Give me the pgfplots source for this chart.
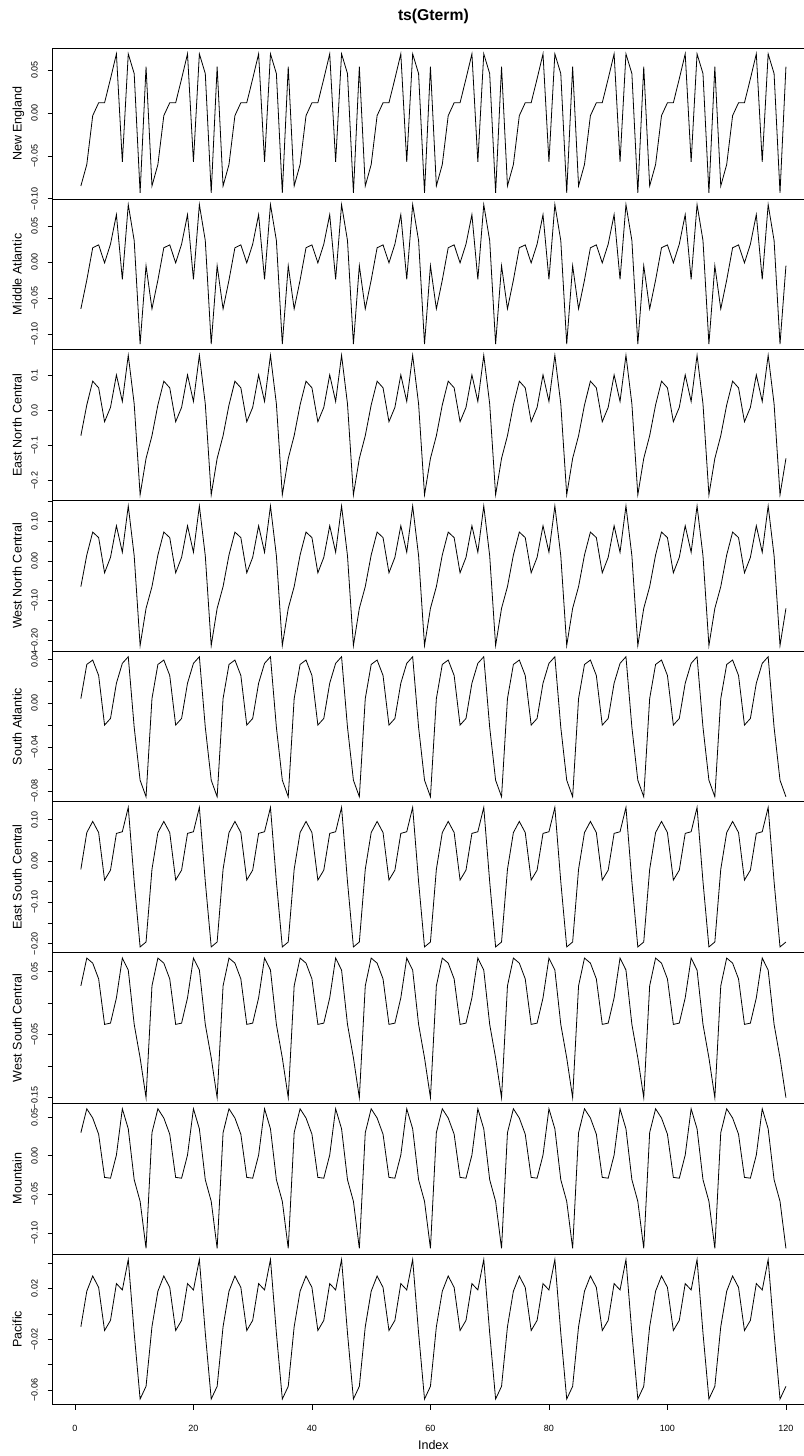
\documentclass[border=0pt]{standalone}
\usepackage{pgfplots}
\usepackage{pgfplotstable}
\pgfplotsset{compat=1.18}
\usepackage{fontspec}
\setmainfont{Liberation Sans}

\pgfplotstableread{
i ne ma enc wnc sa esc wsc mt pac
1 -0.085 -0.065 -0.072 -0.065 0.004 -0.020 0.027 0.030 -0.010
2 -0.060 -0.025 0.016 0.015 0.035 0.069 0.071 0.061 0.018
3 -0.003 0.020 0.084 0.073 0.039 0.096 0.063 0.049 0.030
4 0.012 0.024 0.065 0.059 0.025 0.069 0.038 0.028 0.021
5 0.012 -0.001 -0.032 -0.030 -0.020 -0.046 -0.034 -0.028 -0.013
6 0.040 0.025 0.009 0.009 -0.014 -0.022 -0.032 -0.029 -0.005
7 0.069 0.066 0.102 0.089 0.018 0.067 0.008 0.001 0.024
8 -0.057 -0.024 0.026 0.022 0.036 0.071 0.071 0.061 0.019
9 0.069 0.080 0.158 0.139 0.042 0.130 0.052 0.035 0.043
10 0.046 0.030 0.019 0.013 -0.022 -0.050 -0.034 -0.031 -0.015
11 -0.093 -0.114 -0.241 -0.214 -0.070 -0.208 -0.087 -0.059 -0.067
12 0.054 -0.005 -0.137 -0.120 -0.085 -0.196 -0.150 -0.120 -0.057
13 -0.085 -0.065 -0.072 -0.065 0.004 -0.020 0.027 0.030 -0.010
14 -0.060 -0.025 0.016 0.015 0.035 0.069 0.071 0.061 0.018
15 -0.003 0.020 0.084 0.073 0.039 0.096 0.063 0.049 0.030
16 0.012 0.024 0.065 0.059 0.025 0.069 0.038 0.028 0.021
17 0.012 -0.001 -0.032 -0.030 -0.020 -0.046 -0.034 -0.028 -0.013
18 0.040 0.025 0.009 0.009 -0.014 -0.022 -0.032 -0.029 -0.005
19 0.069 0.066 0.102 0.089 0.018 0.067 0.008 0.001 0.024
20 -0.057 -0.024 0.026 0.022 0.036 0.071 0.071 0.061 0.019
21 0.069 0.080 0.158 0.139 0.042 0.130 0.052 0.035 0.043
22 0.046 0.030 0.019 0.013 -0.022 -0.050 -0.034 -0.031 -0.015
23 -0.093 -0.114 -0.241 -0.214 -0.070 -0.208 -0.087 -0.059 -0.067
24 0.054 -0.005 -0.137 -0.120 -0.085 -0.196 -0.150 -0.120 -0.057
25 -0.085 -0.065 -0.072 -0.065 0.004 -0.020 0.027 0.030 -0.010
26 -0.060 -0.025 0.016 0.015 0.035 0.069 0.071 0.061 0.018
27 -0.003 0.020 0.084 0.073 0.039 0.096 0.063 0.049 0.030
28 0.012 0.024 0.065 0.059 0.025 0.069 0.038 0.028 0.021
29 0.012 -0.001 -0.032 -0.030 -0.020 -0.046 -0.034 -0.028 -0.013
30 0.040 0.025 0.009 0.009 -0.014 -0.022 -0.032 -0.029 -0.005
31 0.069 0.066 0.102 0.089 0.018 0.067 0.008 0.001 0.024
32 -0.057 -0.024 0.026 0.022 0.036 0.071 0.071 0.061 0.019
33 0.069 0.080 0.158 0.139 0.042 0.130 0.052 0.035 0.043
34 0.046 0.030 0.019 0.013 -0.022 -0.050 -0.034 -0.031 -0.015
35 -0.093 -0.114 -0.241 -0.214 -0.070 -0.208 -0.087 -0.059 -0.067
36 0.054 -0.005 -0.137 -0.120 -0.085 -0.196 -0.150 -0.120 -0.057
37 -0.085 -0.065 -0.072 -0.065 0.004 -0.020 0.027 0.030 -0.010
38 -0.060 -0.025 0.016 0.015 0.035 0.069 0.071 0.061 0.018
39 -0.003 0.020 0.084 0.073 0.039 0.096 0.063 0.049 0.030
40 0.012 0.024 0.065 0.059 0.025 0.069 0.038 0.028 0.021
41 0.012 -0.001 -0.032 -0.030 -0.020 -0.046 -0.034 -0.028 -0.013
42 0.040 0.025 0.009 0.009 -0.014 -0.022 -0.032 -0.029 -0.005
43 0.069 0.066 0.102 0.089 0.018 0.067 0.008 0.001 0.024
44 -0.057 -0.024 0.026 0.022 0.036 0.071 0.071 0.061 0.019
45 0.069 0.080 0.158 0.139 0.042 0.130 0.052 0.035 0.043
46 0.046 0.030 0.019 0.013 -0.022 -0.050 -0.034 -0.031 -0.015
47 -0.093 -0.114 -0.241 -0.214 -0.070 -0.208 -0.087 -0.059 -0.067
48 0.054 -0.005 -0.137 -0.120 -0.085 -0.196 -0.150 -0.120 -0.057
49 -0.085 -0.065 -0.072 -0.065 0.004 -0.020 0.027 0.030 -0.010
50 -0.060 -0.025 0.016 0.015 0.035 0.069 0.071 0.061 0.018
51 -0.003 0.020 0.084 0.073 0.039 0.096 0.063 0.049 0.030
52 0.012 0.024 0.065 0.059 0.025 0.069 0.038 0.028 0.021
53 0.012 -0.001 -0.032 -0.030 -0.020 -0.046 -0.034 -0.028 -0.013
54 0.040 0.025 0.009 0.009 -0.014 -0.022 -0.032 -0.029 -0.005
55 0.069 0.066 0.102 0.089 0.018 0.067 0.008 0.001 0.024
56 -0.057 -0.024 0.026 0.022 0.036 0.071 0.071 0.061 0.019
57 0.069 0.080 0.158 0.139 0.042 0.130 0.052 0.035 0.043
58 0.046 0.030 0.019 0.013 -0.022 -0.050 -0.034 -0.031 -0.015
59 -0.093 -0.114 -0.241 -0.214 -0.070 -0.208 -0.087 -0.059 -0.067
60 0.054 -0.005 -0.137 -0.120 -0.085 -0.196 -0.150 -0.120 -0.057
61 -0.085 -0.065 -0.072 -0.065 0.004 -0.020 0.027 0.030 -0.010
62 -0.060 -0.025 0.016 0.015 0.035 0.069 0.071 0.061 0.018
63 -0.003 0.020 0.084 0.073 0.039 0.096 0.063 0.049 0.030
64 0.012 0.024 0.065 0.059 0.025 0.069 0.038 0.028 0.021
65 0.012 -0.001 -0.032 -0.030 -0.020 -0.046 -0.034 -0.028 -0.013
66 0.040 0.025 0.009 0.009 -0.014 -0.022 -0.032 -0.029 -0.005
67 0.069 0.066 0.102 0.089 0.018 0.067 0.008 0.001 0.024
68 -0.057 -0.024 0.026 0.022 0.036 0.071 0.071 0.061 0.019
69 0.069 0.080 0.158 0.139 0.042 0.130 0.052 0.035 0.043
70 0.046 0.030 0.019 0.013 -0.022 -0.050 -0.034 -0.031 -0.015
71 -0.093 -0.114 -0.241 -0.214 -0.070 -0.208 -0.087 -0.059 -0.067
72 0.054 -0.005 -0.137 -0.120 -0.085 -0.196 -0.150 -0.120 -0.057
73 -0.085 -0.065 -0.072 -0.065 0.004 -0.020 0.027 0.030 -0.010
74 -0.060 -0.025 0.016 0.015 0.035 0.069 0.071 0.061 0.018
75 -0.003 0.020 0.084 0.073 0.039 0.096 0.063 0.049 0.030
76 0.012 0.024 0.065 0.059 0.025 0.069 0.038 0.028 0.021
77 0.012 -0.001 -0.032 -0.030 -0.020 -0.046 -0.034 -0.028 -0.013
78 0.040 0.025 0.009 0.009 -0.014 -0.022 -0.032 -0.029 -0.005
79 0.069 0.066 0.102 0.089 0.018 0.067 0.008 0.001 0.024
80 -0.057 -0.024 0.026 0.022 0.036 0.071 0.071 0.061 0.019
81 0.069 0.080 0.158 0.139 0.042 0.130 0.052 0.035 0.043
82 0.046 0.030 0.019 0.013 -0.022 -0.050 -0.034 -0.031 -0.015
83 -0.093 -0.114 -0.241 -0.214 -0.070 -0.208 -0.087 -0.059 -0.067
84 0.054 -0.005 -0.137 -0.120 -0.085 -0.196 -0.150 -0.120 -0.057
85 -0.085 -0.065 -0.072 -0.065 0.004 -0.020 0.027 0.030 -0.010
86 -0.060 -0.025 0.016 0.015 0.035 0.069 0.071 0.061 0.018
87 -0.003 0.020 0.084 0.073 0.039 0.096 0.063 0.049 0.030
88 0.012 0.024 0.065 0.059 0.025 0.069 0.038 0.028 0.021
89 0.012 -0.001 -0.032 -0.030 -0.020 -0.046 -0.034 -0.028 -0.013
90 0.040 0.025 0.009 0.009 -0.014 -0.022 -0.032 -0.029 -0.005
91 0.069 0.066 0.102 0.089 0.018 0.067 0.008 0.001 0.024
92 -0.057 -0.024 0.026 0.022 0.036 0.071 0.071 0.061 0.019
93 0.069 0.080 0.158 0.139 0.042 0.130 0.052 0.035 0.043
94 0.046 0.030 0.019 0.013 -0.022 -0.050 -0.034 -0.031 -0.015
95 -0.093 -0.114 -0.241 -0.214 -0.070 -0.208 -0.087 -0.059 -0.067
96 0.054 -0.005 -0.137 -0.120 -0.085 -0.196 -0.150 -0.120 -0.057
97 -0.085 -0.065 -0.072 -0.065 0.004 -0.020 0.027 0.030 -0.010
98 -0.060 -0.025 0.016 0.015 0.035 0.069 0.071 0.061 0.018
99 -0.003 0.020 0.084 0.073 0.039 0.096 0.063 0.049 0.030
100 0.012 0.024 0.065 0.059 0.025 0.069 0.038 0.028 0.021
101 0.012 -0.001 -0.032 -0.030 -0.020 -0.046 -0.034 -0.028 -0.013
102 0.040 0.025 0.009 0.009 -0.014 -0.022 -0.032 -0.029 -0.005
103 0.069 0.066 0.102 0.089 0.018 0.067 0.008 0.001 0.024
104 -0.057 -0.024 0.026 0.022 0.036 0.071 0.071 0.061 0.019
105 0.069 0.080 0.158 0.139 0.042 0.130 0.052 0.035 0.043
106 0.046 0.030 0.019 0.013 -0.022 -0.050 -0.034 -0.031 -0.015
107 -0.093 -0.114 -0.241 -0.214 -0.070 -0.208 -0.087 -0.059 -0.067
108 0.054 -0.005 -0.137 -0.120 -0.085 -0.196 -0.150 -0.120 -0.057
109 -0.085 -0.065 -0.072 -0.065 0.004 -0.020 0.027 0.030 -0.010
110 -0.060 -0.025 0.016 0.015 0.035 0.069 0.071 0.061 0.018
111 -0.003 0.020 0.084 0.073 0.039 0.096 0.063 0.049 0.030
112 0.012 0.024 0.065 0.059 0.025 0.069 0.038 0.028 0.021
113 0.012 -0.001 -0.032 -0.030 -0.020 -0.046 -0.034 -0.028 -0.013
114 0.040 0.025 0.009 0.009 -0.014 -0.022 -0.032 -0.029 -0.005
115 0.069 0.066 0.102 0.089 0.018 0.067 0.008 0.001 0.024
116 -0.057 -0.024 0.026 0.022 0.036 0.071 0.071 0.061 0.019
117 0.069 0.080 0.158 0.139 0.042 0.130 0.052 0.035 0.043
118 0.046 0.030 0.019 0.013 -0.022 -0.050 -0.034 -0.031 -0.015
119 -0.093 -0.114 -0.241 -0.214 -0.070 -0.208 -0.087 -0.059 -0.067
120 0.054 -0.005 -0.137 -0.120 -0.085 -0.196 -0.150 -0.120 -0.057
}\data

\pgfplotsset{
  panel/.style={
    scale only axis, anchor=north west,
    width=571.1pt, height=113.025pt,
    xmin=-3.76, xmax=124.76,
    xtick=\empty,
    scaled y ticks=false, scaled x ticks=false,
    axis line style={line width=0.6pt},
    tick align=outside,
    ytick pos=left,
    major tick length=3.75pt,
    every tick/.style={black, line width=0.6pt},
    yticklabel style={xshift=-7.5pt, rotate=90, anchor=base, font=\fontsize{6.75}{8}\selectfont},
    every axis y label/.style={at={(axis description cs:-0.0407,0.5)}, rotate=90, anchor=base, font=\fontsize{9.4}{11}\selectfont},
  },
  line/.style={black, line width=0.6pt},
}

\begin{document}
\begin{tikzpicture}
\begin{axis}[panel, at={(39.5pt,-36.225pt)},
  ymin=-0.1002, ymax=0.0755,
  ytick={-0.10,-0.05,0,0.05}, yticklabels={−0.10,−0.05,0.00,0.05},
  ylabel={New England},
  title={ts(Gterm)},
  title style={at={(axis description cs:0.5,1.13)}, anchor=base, font=\bfseries\fontsize{11.8}{14}\selectfont}]
\addplot[line] table[x=i,y=ne]{\data};
\end{axis}
\begin{axis}[panel, at={(39.5pt,-149.25pt)},
  ymin=-0.1218, ymax=0.0878,
  ytick={-0.10,-0.05,0,0.05}, yticklabels={−0.10,−0.05,0.00,0.05},
  ylabel={Middle Atlantic}]
\addplot[line] table[x=i,y=ma]{\data};
\end{axis}
\begin{axis}[panel, at={(39.5pt,-262.275pt)},
  ymin=-0.257, ymax=0.174,
  ytick={-0.2,-0.1,0,0.1}, yticklabels={−0.2,−0.1,0.0,0.1},
  ylabel={East North Central}]
\addplot[line] table[x=i,y=enc]{\data};
\end{axis}
\begin{axis}[panel, at={(39.5pt,-375.3pt)},
  ymin=-0.2281, ymax=0.1531,
  ytick={-0.20,-0.15,-0.10,-0.05,0,0.05,0.10,0.15}, yticklabels={−0.20,{},−0.10,{},0.00,{},0.10,{}},
  ylabel={West North Central}]
\addplot[line] table[x=i,y=wnc]{\data};
\end{axis}
\begin{axis}[panel, at={(39.5pt,-488.325pt)},
  ymin=-0.0896, ymax=0.0471,
  ytick={-0.08,-0.06,-0.04,-0.02,0,0.02,0.04}, yticklabels={−0.08,{},−0.04,{},0.00,{},0.04},
  ylabel={South Atlantic}]
\addplot[line] table[x=i,y=sa]{\data};
\end{axis}
\begin{axis}[panel, at={(39.5pt,-601.35pt)},
  ymin=-0.2215, ymax=0.1435,
  ytick={-0.20,-0.15,-0.10,-0.05,0,0.05,0.10}, yticklabels={−0.20,{},−0.10,{},0.00,{},0.10},
  ylabel={East South Central}]
\addplot[line] table[x=i,y=esc]{\data};
\end{axis}
\begin{axis}[panel, at={(39.5pt,-714.375pt)},
  ymin=-0.1588, ymax=0.0798,
  ytick={-0.15,-0.10,-0.05,0,0.05}, yticklabels={−0.15,{},−0.05,{},0.05},
  ylabel={West South Central}]
\addplot[line] table[x=i,y=wsc]{\data};
\end{axis}
\begin{axis}[panel, at={(39.5pt,-827.4pt)},
  ymin=-0.1272, ymax=0.0682,
  ytick={-0.10,-0.05,0,0.05}, yticklabels={−0.10,−0.05,0.00,0.05},
  ylabel={Mountain}]
\addplot[line] table[x=i,y=mt]{\data};
\end{axis}
\begin{axis}[panel, at={(39.5pt,-940.425pt)},
  ymin=-0.0714, ymax=0.0474,
  ytick={-0.06,-0.04,-0.02,0,0.02,0.04}, yticklabels={−0.06,{},−0.02,{},0.02,{}},
  ylabel={Pacific},
  xtick={0,20,40,60,80,100,120}, xticklabels={0,20,40,60,80,100,120},
  xtick pos=left,
  xticklabel style={yshift=-16.3pt, anchor=base, font=\fontsize{6.75}{8}\selectfont},
  xlabel={Index},
  every axis x label/.style={at={(axis description cs:0.5,-0.2966)}, anchor=base, font=\fontsize{9.4}{11}\selectfont}]
\addplot[line] table[x=i,y=pac]{\data};
\end{axis}
\pgfresetboundingbox
\path (0pt,0pt) rectangle (602.25pt,-1092pt);
\end{tikzpicture}
\end{document}
